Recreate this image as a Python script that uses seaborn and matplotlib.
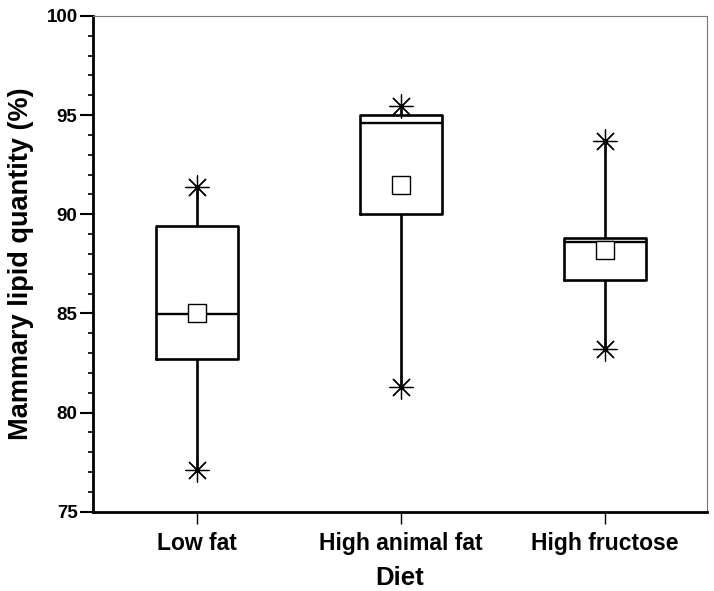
import numpy as np
import pandas as pd
import matplotlib
matplotlib.use("Agg")
import matplotlib.pyplot as plt
from matplotlib import font_manager
from matplotlib.ticker import MultipleLocator
import seaborn as sns

# values
diets = ["Low fat", "High animal fat", "High fructose"]
mins = [77.1, 81.3, 83.2]
q1 = [82.7, 90.0, 86.7]
medians = [84.95, 94.6, 88.6]
q3 = [89.4, 95.0, 88.8]
maxs = [91.4, 95.45, 93.7]
means = [85.0, 91.5, 88.2]

# five points per diet so the quartiles come out exactly
rows = []
for i, d in enumerate(diets):
    for v in [mins[i], q1[i], medians[i], q3[i], maxs[i]]:
        rows.append({"Diet": d, "value": v})
df = pd.DataFrame(rows)
df_ext = pd.DataFrame({"Diet": diets * 2, "value": mins + maxs})
df_mean = pd.DataFrame({"Diet": diets, "value": means})

sns.set_style("ticks")
plt.rcParams["font.family"] = ["Liberation Sans", "DejaVu Sans"]
plt.rcParams["text.color"] = "black"
plt.rcParams["axes.labelcolor"] = "black"
plt.rcParams["xtick.color"] = "black"
plt.rcParams["ytick.color"] = "black"

# x text in the reference is condensed; use the narrow face when it exists
try:
    font_manager.findfont("Liberation Sans Narrow", fallback_to_default=False)
    xfont, xsize, dsize = ["Liberation Sans Narrow", "Liberation Sans"], 20, 22
except ValueError:
    xfont, xsize, dsize = ["Liberation Sans", "DejaVu Sans"], 16.5, 18.5

fig, ax = plt.subplots(figsize=(7.14, 5.91), dpi=100)
fig.subplots_adjust(left=0.13, right=0.99, top=0.973, bottom=0.134)

sns.boxplot(data=df, x="Diet", y="value", order=diets, whis=(0, 100),
            width=0.4, fill=False, color="black", linecolor="black",
            linewidth=1.9, showcaps=False, showfliers=False, ax=ax,
            medianprops={"linewidth": 1.7})

# min / max asterisks and mean squares
sns.scatterplot(data=df_ext, x="Diet", y="value", marker=(8, 2, 0), s=280,
                color="black", linewidth=0.9, ax=ax, zorder=5)
sns.scatterplot(data=df_mean, x="Diet", y="value", marker="s", s=150,
                facecolor="white", edgecolor="black", linewidth=1.0, ax=ax, zorder=6)

ax.set_ylim(75, 100)
ax.set_xlim(-0.51, 2.5)
ax.yaxis.set_major_locator(MultipleLocator(5))
ax.yaxis.set_minor_locator(MultipleLocator(1))

ax.set_xlabel("Diet", fontsize=dsize, fontweight="bold", family=xfont, labelpad=8)
ax.set_ylabel("Mammary lipid quantity (%)", fontsize=19.5, fontweight="bold", labelpad=9)

ax.tick_params(axis="y", which="major", length=9.5, width=1.5, direction="out", pad=1.5)
ax.tick_params(axis="y", which="minor", length=3.5, width=1.2, direction="out")
ax.tick_params(axis="x", which="major", length=8.5, width=1.0, direction="out", pad=6)
ax.tick_params(axis="x", labelsize=xsize)
ax.tick_params(axis="y", labelsize=13.5)
for lab in ax.get_xticklabels():
    lab.set_fontweight("bold")
    lab.set_family(xfont)
for lab in ax.get_yticklabels():
    lab.set_fontweight("bold")

for side in ["left", "bottom"]:
    ax.spines[side].set_linewidth(2.0)
    ax.spines[side].set_color("black")
for side in ["top", "right"]:
    ax.spines[side].set_visible(True)
    ax.spines[side].set_linewidth(0.8)
    ax.spines[side].set_color("#777777")

fig.savefig("out.png", dpi=100)
